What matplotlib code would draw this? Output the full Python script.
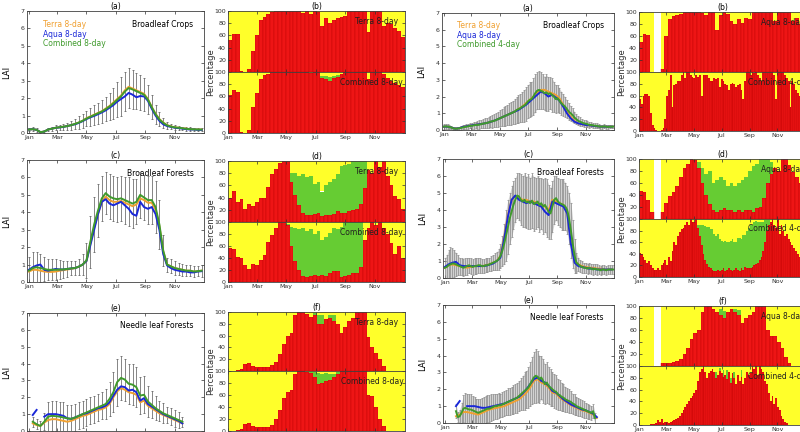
import matplotlib
matplotlib.use('Agg')
import matplotlib.pyplot as plt
import numpy as np

nan = np.nan

# composite days
doy8 = np.arange(1, 366, 8)   # 46 periods
doy4 = np.arange(1, 366, 4)   # 92 periods
months = ['Jan', 'Mar', 'May', 'Jul', 'Sep', 'Nov']
month_days = [1, 60, 121, 182, 244, 305]

# ---------------- left half: 8-day products ----------------
# (a) Broadleaf Crops LAI
terra_a = [0.2, 0.22, 0.18, 0.05, 0.08, 0.2, 0.25, 0.3, 0.33, 0.36, 0.4, 0.45, 0.52, 0.6, 0.7, 0.85, 0.95, 1.05, 1.15, 1.25,
           1.4, 1.55, 1.75, 1.95, 2.15, 2.45, 2.65, 2.55, 2.45, 2.35, 2.25, 1.95, 1.5, 1.1, 0.8, 0.6, 0.45, 0.38, 0.33, 0.3,
           0.28, 0.25, 0.22, 0.22, 0.2, 0.2]
aqua_a = [0.2, 0.22, 0.18, 0.05, 0.08, 0.2, 0.25, 0.3, 0.32, 0.35, 0.4, 0.45, 0.5, 0.58, 0.68, 0.8, 0.9, 0.98, 1.08, 1.18,
          1.3, 1.45, 1.6, 1.8, 1.95, 2.1, 2.3, 2.2, 2.05, 2.12, 2.1, 1.85, 1.4, 1.0, 0.7, 0.5, 0.4, 0.35, 0.3, 0.28,
          0.25, 0.22, 0.2, 0.2, 0.18, 0.18]
comb_a = [0.2, 0.22, 0.18, 0.05, 0.08, 0.2, 0.25, 0.3, 0.33, 0.36, 0.4, 0.45, 0.52, 0.6, 0.7, 0.83, 0.93, 1.03, 1.13, 1.23,
          1.37, 1.52, 1.7, 1.9, 2.1, 2.38, 2.58, 2.5, 2.4, 2.3, 2.2, 1.92, 1.48, 1.08, 0.78, 0.58, 0.44, 0.37, 0.32, 0.3,
          0.27, 0.24, 0.22, 0.21, 0.2, 0.2]
std_a = [0.1, 0.1, 0.1, 0.05, 0.1, 0.1, 0.12, 0.15, 0.15, 0.18, 0.2, 0.25, 0.3, 0.35, 0.4, 0.45, 0.5, 0.55, 0.6, 0.65,
         0.7, 0.8, 0.9, 1.0, 1.1, 1.1, 1.15, 1.1, 1.05, 1.0, 0.95, 0.85, 0.7, 0.55, 0.4, 0.3, 0.2, 0.15, 0.12, 0.1,
         0.1, 0.1, 0.1, 0.1, 0.1, 0.1]

# (b) percentages, Broadleaf Crops
red_b_top = [52, 63, 62, 2, 0, 5, 35, 60, 85, 90, 95, 98, 100, 100, 100, 100, 100, 100, 100, 96,
             100, 95, 100, 98, 75, 88, 80, 85, 88, 90, 92, 100, 100, 100, 100, 100, 65, 100, 100, 100,
             75, 80, 78, 72, 68, 58]
green_b_top = [0] * 46
red_b_bot = [63, 70, 67, 2, 0, 5, 43, 65, 88, 95, 97, 100, 100, 100, 100, 100, 100, 100, 100, 100,
             100, 98, 100, 100, 90, 88, 85, 90, 92, 96, 100, 100, 100, 100, 100, 100, 88, 100, 100, 100,
             97, 90, 85, 82, 78, 76]
green_b_bot = [0] * 24 + [4, 5, 6, 4, 3] + [0] * 17

# (c) Broadleaf Forests LAI
terra_c = [0.6, 0.7, 0.7, 0.65, 0.6, 0.58, 0.58, 0.6, 0.65, 0.68, 0.72, 0.75, 0.8, 0.88, 1.0, 1.2, 2.2, 3.1, 3.9, 4.6,
           4.9, 4.7, 4.6, 4.6, 4.65, 4.55, 4.45, 4.35, 4.45, 4.8, 4.7, 4.55, 4.55, 4.15, 3.2, 1.75, 1.0, 0.9, 0.8, 0.75,
           0.7, 0.65, 0.65, 0.6, 0.62, 0.65]
aqua_c = [0.7, 0.85, 0.95, 1.0, 0.7, 0.65, 0.7, 0.75, 0.72, 0.72, 0.75, 0.78, 0.8, 0.88, 1.0, 1.2, 2.1, 3.0, 3.9, 4.6,
          4.75, 4.5, 4.4, 4.5, 4.6, 4.4, 4.2, 3.9, 3.8, 4.6, 4.3, 4.2, 4.3, 3.9, 3.0, 1.6, 0.95, 0.8, 0.7, 0.65,
          0.6, 0.6, 0.55, 0.55, 0.6, 0.62]
comb_c = [0.65, 0.8, 0.85, 0.8, 0.75, 0.7, 0.7, 0.7, 0.72, 0.72, 0.75, 0.78, 0.8, 0.88, 1.0, 1.25, 2.3, 3.3, 4.1, 4.8,
          5.1, 4.9, 4.8, 4.75, 4.8, 4.7, 4.6, 4.5, 4.6, 5.0, 4.85, 4.7, 4.7, 4.3, 3.3, 1.8, 1.0, 0.9, 0.8, 0.75,
          0.7, 0.65, 0.65, 0.6, 0.62, 0.65]
std_c = [0.8, 0.9, 0.9, 0.8, 0.7, 0.6, 0.6, 0.6, 0.55, 0.5, 0.45, 0.4, 0.4, 0.45, 0.6, 1.0, 1.5, 1.6, 1.5, 1.3,
         1.2, 1.3, 1.3, 1.3, 1.3, 1.35, 1.4, 1.4, 1.3, 1.3, 1.3, 1.4, 1.4, 1.5, 1.4, 0.9, 0.4, 0.4, 0.4, 0.35,
         0.35, 0.3, 0.3, 0.3, 0.3, 0.35]

# (d) percentages, Broadleaf Forests
red_d_top = [40, 50, 33, 38, 22, 30, 26, 33, 40, 40, 57, 78, 87, 97, 100, 100, 65, 45, 28, 15,
             12, 12, 13, 15, 10, 12, 12, 13, 18, 15, 15, 18, 20, 22, 30, 55, 85, 80, 100, 90,
             100, 75, 60, 42, 37, 22]
green_d_top = [0] * 16 + [15, 35, 48, 63, 61, 63, 49, 50, 40, 48, 53, 57, 60, 77, 78, 77, 80, 78, 70, 45] + [0] * 10
red_d_bot = [57, 55, 42, 40, 28, 22, 30, 28, 37, 45, 67, 78, 90, 100, 100, 95, 60, 35, 20, 10,
             8, 10, 12, 10, 12, 10, 15, 18, 18, 8, 10, 12, 15, 15, 25, 70, 90, 100, 95, 100,
             90, 80, 65, 47, 60, 40]
green_d_bot = [0] * 15 + [2, 32, 55, 68, 80, 77, 78, 68, 75, 58, 65, 67, 72, 70, 84, 90, 88, 85, 85, 75] + [0] * 11

# (e) Needle leaf Forests LAI
terra_e = [nan, 0.45, 0.35, 0.3, 0.5, 0.65, 0.7, 0.7, 0.65, 0.6, 0.55, 0.6, 0.7, 0.8, 0.9, 0.95, 1.05, 1.15, 1.25, 1.3,
           1.4, 1.6, 2.0, 2.35, 2.55, 2.45, 2.3, 2.25, 2.15, 1.7, 1.8, 1.5, 1.35, 1.2, 1.05, 0.95, 0.85, 0.75, 0.65, 0.55,
           0.45, nan, nan, nan, nan, nan]
aqua_e = [nan, 0.95, 1.25, nan, 0.85, 1.0, 1.0, 1.0, 0.95, 0.9, 0.75, 0.72, 0.8, 0.9, 1.0, 1.05, 1.15, 1.25, 1.35, 1.4,
          1.5, 1.7, 2.1, 2.45, 2.65, 2.6, 2.4, 2.45, 2.3, 1.8, 1.95, 1.6, 1.45, 1.3, 1.15, 1.0, 0.9, 0.8, 0.7, 0.6,
          0.45, nan, nan, nan, nan, nan]
comb_e = [nan, 0.55, 0.4, 0.3, 0.55, 0.85, 0.9, 0.88, 0.85, 0.8, 0.75, 0.72, 0.8, 0.9, 1.0, 1.1, 1.2, 1.3, 1.4, 1.5,
          1.6, 1.9, 2.3, 2.9, 3.15, 3.05, 2.8, 2.75, 2.6, 2.1, 2.15, 1.75, 1.55, 1.35, 1.2, 1.05, 0.95, 0.85, 0.75, 0.65,
          0.55, nan, nan, nan, nan, nan]
std_e = [nan, 0.3, 0.3, 0.3, 0.5, 0.9, 0.9, 0.9, 0.9, 0.9, 0.8, 0.8, 0.8, 0.8, 0.8, 0.8, 0.8, 0.8, 0.8, 0.8,
         0.9, 1.0, 1.2, 1.4, 1.3, 1.25, 1.2, 1.2, 1.2, 1.1, 1.1, 0.9, 0.8, 0.7, 0.6, 0.6, 0.5, 0.5, 0.5, 0.5,
         0.3, nan, nan, nan, nan, nan]

# (f) percentages, Needle leaf Forests
red_f_top = [0, 0, 2, 3, 12, 13, 8, 7, 7, 7, 6, 10, 15, 28, 45, 60, 65, 95, 100, 100,
             97, 92, 95, 80, 80, 88, 90, 85, 80, 65, 75, 85, 90, 100, 100, 100, 58, 40, 30, 20,
             8, 0, 0, 0, 0, 0]
green_f_top = [0] * 22 + [3, 15, 15, 0, 5, 10] + [0] * 18
red_f_bot = [0, 0, 2, 3, 12, 13, 8, 7, 7, 7, 6, 10, 20, 35, 55, 65, 68, 95, 100, 100,
             98, 96, 90, 78, 80, 84, 85, 90, 95, 100, 100, 100, 100, 100, 100, 100, 60, 58, 40, 20,
             8, 0, 0, 0, 0, 0]
green_f_bot = [0] * 21 + [3, 8, 18, 15, 12, 10, 5, 3] + [0] * 17

# ---------------- right half: Aqua 8-day and combined 4-day ----------------
# Broadleaf Crops
terra_r1 = [0.2, 0.2, 0.15, 0.08, 0.1, 0.18, 0.22, 0.26, 0.3, 0.33, 0.36, 0.4, 0.45, 0.52, 0.6, 0.7, 0.8, 0.9, 1.0, 1.1,
            1.25, 1.4, 1.6, 1.8, 2.0, 2.25, 2.4, 2.4, 2.3, 2.2, 2.1, 1.9, 1.5, 1.1, 0.8, 0.55, 0.4, 0.35, 0.3, 0.28,
            0.25, 0.22, 0.2, 0.2, 0.2, 0.2]
aqua_r1 = [0.2, 0.2, 0.15, 0.08, 0.1, 0.18, 0.22, 0.26, 0.3, 0.33, 0.36, 0.4, 0.45, 0.52, 0.6, 0.7, 0.8, 0.9, 1.0, 1.1,
           1.2, 1.35, 1.5, 1.7, 1.9, 2.1, 2.3, 2.2, 2.0, 2.1, 1.95, 1.75, 1.4, 1.0, 0.7, 0.5, 0.4, 0.35, 0.3, 0.28,
           0.25, 0.22, 0.2, 0.2, 0.2, 0.2]
comb4_r1 = [0.2, 0.22, 0.2, 0.18, 0.15, 0.1, 0.08, 0.08, 0.1, 0.12, 0.15, 0.18, 0.2, 0.22, 0.25, 0.25, 0.28, 0.3, 0.3, 0.32,
            0.35, 0.38, 0.4, 0.42, 0.45, 0.5, 0.52, 0.55, 0.6, 0.65, 0.7, 0.75, 0.8, 0.85, 0.9, 0.95, 1.0, 1.05, 1.1, 1.2,
            1.25, 1.3, 1.4, 1.45, 1.55, 1.7, 1.8, 1.85, 2.0, 2.2, 2.35, 2.4, 2.35, 2.3, 2.2, 2.25, 2.15, 2.2, 2.1, 2.0,
            1.85, 1.9, 1.75, 1.6, 1.5, 1.4, 1.25, 1.1, 1.0, 0.9, 0.75, 0.65, 0.55, 0.5, 0.45, 0.4, 0.38, 0.35, 0.3, 0.3,
            0.28, 0.25, 0.25, 0.22, 0.2, 0.2, 0.22, 0.2, 0.18, 0.2, 0.2, 0.2]
std4_r1 = [0.15, 0.15, 0.15, 0.12, 0.1, 0.1, 0.08, 0.08, 0.1, 0.1, 0.12, 0.12, 0.15, 0.15, 0.15, 0.18, 0.2, 0.2, 0.22, 0.25,
           0.25, 0.28, 0.3, 0.3, 0.32, 0.35, 0.38, 0.4, 0.42, 0.45, 0.48, 0.5, 0.55, 0.6, 0.6, 0.65, 0.7, 0.7, 0.75, 0.8,
           0.85, 0.85, 0.9, 0.95, 1.0, 1.0, 1.05, 1.0, 1.1, 1.15, 1.1, 1.15, 1.1, 1.05, 1.0, 1.1, 1.0, 0.95, 1.0, 0.9,
           0.85, 0.8, 0.75, 0.7, 0.65, 0.6, 0.55, 0.5, 0.45, 0.4, 0.35, 0.3, 0.28, 0.25, 0.22, 0.2, 0.2, 0.18, 0.18, 0.15,
           0.15, 0.15, 0.15, 0.12, 0.12, 0.12, 0.12, 0.12, 0.1, 0.1, 0.1, 0.1]
red_r1_top = [50, 63, 62, 0, nan, nan, 5, 60, 88, 93, 95, 97, 100, 100, 100, 100, 100, 98, 95, 100,
              100, 70, 95, 100, 97, 85, 80, 88, 82, 90, 88, 100, 100, 100, 100, 100, 100, 85, 100, 100,
              100, 100, 85, 90, 80, 75]
green_r1_top = [0] * 46
red_r1_bot = [55, 45, 60, 62, 62, 60, 30, 10, 5, 2, 0, 0, 2, 5, 20, 60, 70, 95, 40, 78,
              80, 85, 85, 95, 100, 90, 100, 100, 95, 92, 90, 95, 92, 95, 60, 95, 95, 95, 90, 85,
              85, 90, 88, 90, 75, 88, 85, 80, 78, 70, 80, 82, 80, 75, 78, 80, 70, 55, 85, 100,
              100, 95, 100, 98, 100, 95, 90, 85, 100, 100, 100, 100, 100, 100, 95, 55, 100, 100, 100, 100,
              95, 90, 85, 40, 85, 80, 70, 65, 60, 55, 50, 45]
green_r1_bot = [0] * 92

# Broadleaf Forests
terra_r2 = [0.6, 0.75, 0.8, 0.75, 0.7, 0.65, 0.6, 0.65, 0.7, 0.7, 0.7, 0.75, 0.8, 0.9, 1.0, 1.3, 2.4, 3.7, 4.6, 4.8,
            4.7, 4.6, 4.6, 4.5, 4.5, 4.4, 4.3, 4.2, 4.0, 4.6, 4.5, 4.4, 4.3, 3.9, 2.2, 1.0, 0.8, 0.7, 0.65, 0.6,
            0.6, 0.55, 0.55, 0.5, 0.5, 0.5]
aqua_r2 = [0.65, 0.8, 0.9, 0.95, 0.75, 0.7, 0.7, 0.7, 0.7, 0.7, 0.7, 0.72, 0.78, 0.85, 1.0, 1.2, 2.3, 3.6, 4.6, 4.85,
           4.6, 4.5, 4.4, 4.5, 4.4, 4.3, 4.2, 3.9, 3.7, 4.5, 4.4, 4.3, 4.2, 3.8, 2.0, 0.9, 0.7, 0.65, 0.6, 0.55,
           0.55, 0.5, 0.5, 0.5, 0.5, 0.5]
comb4_r2 = [0.6, 0.65, 0.75, 0.8, 0.85, 0.85, 0.8, 0.75, 0.7, 0.65, 0.6, 0.65, 0.7, 0.75, 0.7, 0.65, 0.7, 0.7, 0.75, 0.75,
            0.7, 0.7, 0.75, 0.75, 0.8, 0.85, 0.9, 0.95, 1.0, 1.1, 1.3, 1.6, 2.0, 2.5, 3.0, 3.5, 3.9, 4.3, 4.6, 4.85,
            4.8, 4.6, 4.5, 4.6, 4.45, 4.5, 4.4, 4.55, 4.35, 4.4, 4.5, 4.3, 4.4, 4.2, 4.3, 4.1, 3.9, 3.8, 4.2, 4.6,
            4.7, 4.5, 4.4, 4.35, 4.3, 4.2, 4.0, 3.5, 2.8, 2.0, 1.3, 0.9, 0.8, 0.7, 0.65, 0.6, 0.6, 0.55, 0.6, 0.55,
            0.5, 0.55, 0.5, 0.5, 0.45, 0.5, 0.5, 0.45, 0.5, 0.5, 0.5, 0.5]
std4_r2 = [0.6, 0.7, 0.9, 1.0, 0.9, 0.8, 0.7, 0.6, 0.5, 0.5, 0.5, 0.5, 0.5, 0.45, 0.45, 0.45, 0.45, 0.45, 0.45, 0.45,
           0.4, 0.4, 0.4, 0.4, 0.4, 0.45, 0.45, 0.5, 0.55, 0.6, 0.7, 0.9, 1.2, 1.5, 1.6, 1.5, 1.5, 1.4, 1.3, 1.3,
           1.4, 1.5, 1.5, 1.6, 1.5, 1.6, 1.5, 1.6, 1.6, 1.5, 1.5, 1.6, 1.5, 1.6, 1.6, 1.7, 1.6, 1.5, 1.5, 1.4,
           1.3, 1.4, 1.4, 1.5, 1.5, 1.4, 1.4, 1.5, 1.6, 1.4, 1.0, 0.6, 0.4, 0.35, 0.35, 0.3, 0.3, 0.3, 0.3, 0.3,
           0.3, 0.3, 0.3, 0.25, 0.25, 0.25, 0.25, 0.25, 0.25, 0.25, 0.25, 0.25]
red_r2_top = [47, 45, 32, 12, nan, nan, 12, 27, 38, 45, 55, 70, 85, 92, 100, 98, 85, 60, 40, 25,
              15, 12, 15, 18, 15, 15, 12, 15, 12, 15, 15, 12, 18, 20, 35, 60, 75, 85, 80, 100,
              100, 90, 78, 70, 60, 50]
green_r2_top = [0] * 16 + [10, 25, 35, 55, 45, 53, 55, 47, 40, 45, 43, 45, 53, 55, 65, 76, 74, 80, 65, 40, 20] + [0] * 9
red_r2_bot = [42, 40, 35, 30, 25, 28, 20, 15, 12, 12, 15, 12, 20, 25, 30, 20, 35, 28, 45, 60,
              55, 70, 78, 82, 85, 90, 95, 90, 100, 95, 95, 100, 85, 70, 55, 40, 30, 22, 18, 15,
              12, 10, 10, 12, 10, 12, 15, 10, 12, 15, 12, 10, 12, 15, 12, 10, 15, 12, 18, 15,
              15, 15, 18, 20, 22, 25, 30, 35, 45, 60, 80, 90, 95, 100, 90, 85, 100, 75, 90, 80,
              70, 75, 65, 60, 55, 50, 45, 40, 35, 30, 25, 22]
green_r2_bot = [0] * 32 + [5, 20, 35, 50, 58, 65, 68, 68, 70, 65, 60, 62, 55, 50, 45, 52, 48, 45, 50, 55,
                           48, 45, 55, 58, 50, 60, 55, 65, 70, 75, 72, 75, 75, 70, 65, 60, 50, 38, 18, 8] + [0] * 20

# Needle leaf Forests
terra_r3 = [nan, nan, nan, 0.4, 0.5, 0.65, 0.65, 0.6, 0.55, 0.5, 0.6, 0.7, 0.8, 0.85, 0.9, 0.95, 1.0, 1.1, 1.2, 1.3,
            1.4, 1.6, 1.8, 2.1, 2.5, 2.6, 2.4, 2.3, 2.1, 1.8, 1.75, 1.5, 1.35, 1.2, 1.05, 0.95, 0.85, 0.75, 0.7, 0.6,
            0.5, 0.3, nan, nan, nan, nan]
aqua_r3 = [nan, nan, nan, 1.0, 1.3, nan, 1.0, 1.0, 1.0, 0.95, 0.9, 0.9, 0.95, 1.0, 1.05, 1.1, 1.15, 1.25, 1.35, 1.45,
           1.55, 1.75, 2.0, 2.3, 2.6, 2.7, 2.5, 2.4, 2.2, 1.9, 1.8, 1.6, 1.4, 1.25, 1.1, 1.0, 0.9, 0.8, 0.75, 0.65,
           0.55, 0.35, nan, nan, nan, nan]
comb4_r3 = [nan, nan, nan, nan, nan, nan, 0.7, 0.35, 0.4, 0.6, 0.85, 0.9, 0.85, 0.8, 0.8, 0.75, 0.7, 0.65, 0.6, 0.65,
            0.7, 0.75, 0.8, 0.85, 0.85, 0.9, 0.95, 1.0, 1.0, 1.05, 1.05, 1.1, 1.15, 1.2, 1.25, 1.3, 1.35, 1.4, 1.45, 1.5,
            1.6, 1.7, 1.8, 1.9, 2.0, 2.1, 2.3, 2.5, 2.7, 2.8, 2.75, 2.6, 2.7, 2.5, 2.3, 2.4, 2.2, 2.1, 2.0, 1.9,
            1.85, 1.7, 1.65, 1.55, 1.5, 1.4, 1.35, 1.3, 1.25, 1.15, 1.1, 1.0, 0.95, 0.9, 0.85, 0.8, 0.75, 0.7, 0.65, 0.6,
            0.7, 0.3, nan, nan, nan, nan, nan, nan, nan, nan, nan, nan]
std4_r3 = [nan, nan, nan, nan, nan, nan, 0.4, 0.3, 0.4, 0.6, 0.8, 0.9, 0.9, 0.9, 0.9, 0.85, 0.85, 0.8, 0.8, 0.8,
           0.8, 0.8, 0.8, 0.8, 0.8, 0.8, 0.75, 0.75, 0.75, 0.75, 0.7, 0.75, 0.75, 0.75, 0.8, 0.8, 0.8, 0.85, 0.85, 0.9,
           0.9, 0.95, 1.0, 1.1, 1.1, 1.2, 1.3, 1.4, 1.5, 1.6, 1.5, 1.4, 1.3, 1.3, 1.2, 1.2, 1.1, 1.1, 1.0, 1.0,
           1.0, 0.9, 0.9, 0.85, 0.8, 0.75, 0.7, 0.7, 0.65, 0.6, 0.6, 0.55, 0.55, 0.5, 0.5, 0.5, 0.45, 0.45, 0.4, 0.4,
           0.4, 0.3, nan, nan, nan, nan, nan, nan, nan, nan, nan, nan]
red_r3_top = [0, 0, 0, 0, nan, nan, 5, 5, 5, 6, 8, 12, 20, 30, 45, 55, 60, 90, 100, 100,
              95, 90, 85, 80, 90, 95, 90, 85, 72, 80, 85, 90, 100, 100, 100, 60, 50, 50, 40, 30,
              15, 5, 0, 0, 0, 0]
green_r3_top = [0] * 22 + [10, 12, 0, 0, 5, 8] + [0] * 18
red_r3_bot = [0, 0, 0, 0, 0, 0, 1, 2, 2, 3, 8, 5, 10, 4, 5, 5, 3, 5, 6, 8,
              10, 12, 15, 20, 25, 30, 35, 40, 45, 50, 55, 60, 75, 90, 95, 100, 90, 80, 88, 92,
              95, 90, 80, 85, 92, 88, 82, 85, 78, 90, 72, 88, 80, 70, 85, 75, 82, 70, 80, 90,
              85, 88, 100, 95, 100, 85, 100, 95, 90, 75, 70, 55, 40, 50, 35, 45, 30, 25, 15, 10,
              5, 3, 0, 0, 0, 0, 0, 0, 0, 0, 0, 0]
green_r3_bot = [0] * 42 + [10, 0, 5, 0, 12, 0, 15, 0, 8, 0, 10, 0, 0, 0, 12] + [0] * 35

C_TERRA = '#f0a030'
C_AQUA = '#1a28d8'
C_COMB = '#3f9a2c'
C_RED = '#ee1515'
C_YEL = '#ffff2a'
C_GRN = '#66cc33'

W, H = 800, 432
fig = plt.figure(figsize=(8, 4.32), dpi=100)


def rect(x0, y0, x1, y1):
    return [x0 / W, 1 - y1 / H, (x1 - x0) / W, (y1 - y0) / H]


def style(ax):
    for s in ax.spines.values():
        s.set_linewidth(0.6)
        s.set_color('#404040')
    ax.tick_params(labelsize=4.5, direction='in', length=2, width=0.5, pad=1.5,
                   top=True, right=True, colors='#303030')


def lai_panel(box, title, name, terra, aqua, comb, cdays, std, clabel, gray):
    ax = fig.add_axes(rect(*box))
    comb = np.array(comb)
    std = np.array(std)
    if gray:
        ax.fill_between(cdays, comb - std, comb + std, color='#d2d2d2', lw=0)
        ax.errorbar(cdays, comb, yerr=std, fmt='none', ecolor='#8a8a8a',
                    elinewidth=0.5, capsize=1, capthick=0.5)
    else:
        ax.errorbar(cdays, comb, yerr=std, fmt='none', ecolor='#555555',
                    elinewidth=0.5, capsize=1, capthick=0.5)
    ax.plot(doy8, terra, color=C_TERRA, lw=1.4)
    ax.plot(doy8, aqua, color=C_AQUA, lw=1.4)
    ax.plot(cdays, comb, color=C_COMB, lw=1.4)
    ax.set_xlim(-3, 366)
    ax.set_ylim(0, 7)
    ax.set_yticks(range(8))
    ax.set_xticks(month_days)
    ax.set_xticklabels(months)
    style(ax)
    ax.set_title(title, fontsize=5.5, pad=1.5)
    ax.set_ylabel('LAI', fontsize=6, labelpad=0)
    ax.yaxis.set_label_coords(-0.09, 0.5)
    if clabel:
        ax.text(0.09, 0.89, 'Terra 8-day', color=C_TERRA, fontsize=5.5, transform=ax.transAxes, va='center')
        ax.text(0.09, 0.81, 'Aqua 8-day', color=C_AQUA, fontsize=5.5, transform=ax.transAxes, va='center')
        ax.text(0.09, 0.73, clabel, color=C_COMB, fontsize=5.5, transform=ax.transAxes, va='center')
    ax.text(0.94, 0.89, name, fontsize=5.5, transform=ax.transAxes, va='center', ha='right')
    return ax


def bar_half(ax, days, width, red, green, label, lx):
    red = np.array(red, dtype=float)
    green = np.array(green, dtype=float)
    ok = ~np.isnan(red)
    x = np.asarray(days)[ok] - 1
    r = red[ok]
    g = green[ok]
    ax.bar(x, r, width, align='edge', color=C_RED, edgecolor='#b80000', lw=0.25)
    ax.bar(x, g, width, bottom=r, align='edge', color=C_GRN, lw=0)
    ax.bar(x, 100 - r - g, width, bottom=r + g, align='edge', color=C_YEL, lw=0)
    ax.set_xlim(0, 368)
    ax.set_ylim(0, 100)
    ax.set_xticks(month_days)
    style(ax)
    ax.text(lx, 0.83, label, fontsize=5.5, transform=ax.transAxes, va='center', color='#202020')


def bar_panel(box, split, title, days_top, w_top, rt, gt, lt, days_bot, w_bot, rb, gb, lb, lx_top, lx_bot, ylab_x):
    x0, y0, x1, y1 = box
    at = fig.add_axes(rect(x0, y0, x1, split))
    ab = fig.add_axes(rect(x0, split, x1, y1))
    bar_half(at, days_top, w_top, rt, gt, lt, lx_top)
    bar_half(ab, days_bot, w_bot, rb, gb, lb, lx_bot)
    at.set_yticks([20, 40, 60, 80, 100])
    at.set_xticklabels([])
    ab.set_yticks([0, 20, 40, 60, 80, 100])
    ab.set_xticklabels(months)
    at.set_title(title, fontsize=5.5, pad=1.5)
    fig.text(ylab_x / W, 1 - split / H, 'Percentage', rotation=90, fontsize=6,
             ha='center', va='center', color='#303030')


# left half
lai_panel((27, 11, 204, 133), '(a)', 'Broadleaf Crops', terra_a, aqua_a, comb_a, doy8, std_a, 'Combined 8-day', False)
lai_panel((27, 160, 204, 282), '(c)', 'Broadleaf Forests', terra_c, aqua_c, comb_c, doy8, std_c, None, False)
lai_panel((27, 313, 204, 431), '(e)', 'Needle leaf Forests', terra_e, aqua_e, comb_e, doy8, std_e, None, False)

bar_panel((228, 11, 405, 133), 72, '(b)', doy8, 8, red_b_top, green_b_top, 'Terra 8-day',
          doy8, 8, red_b_bot, green_b_bot, 'Combined 8-day', 0.72, 0.63, 211)
bar_panel((228, 161, 405, 282), 222, '(d)', doy8, 8, red_d_top, green_d_top, 'Terra 8-day',
          doy8, 8, red_d_bot, green_d_bot, 'Combined 8-day', 0.72, 0.63, 211)
bar_panel((228, 312, 405, 431), 371, '(f)', doy8, 8, red_f_top, green_f_top, 'Terra 8-day',
          doy8, 8, red_f_bot, green_f_bot, 'Combined 8-day', 0.72, 0.64, 211)

# right half
lai_panel((442, 13, 614, 130), '(a)', 'Broadleaf Crops', terra_r1, aqua_r1, comb4_r1, doy4, std4_r1, 'Combined 4-day', True)
lai_panel((443, 159, 614, 278), '(c)', 'Broadleaf Forests', terra_r2, aqua_r2, comb4_r2, doy4, std4_r2, None, True)
lai_panel((443, 305, 614, 423), '(e)', 'Needle leaf Forests', terra_r3, aqua_r3, comb4_r3, doy4, std4_r3, None, True)

bar_panel((639, 12, 806, 131), 72, '(b)', doy8, 8, red_r1_top, green_r1_top, 'Aqua 8-day',
          doy4, 4, red_r1_bot, green_r1_bot, 'Combined 4-day', 0.73, 0.65, 622)
bar_panel((639, 159, 806, 277), 219, '(d)', doy8, 8, red_r2_top, green_r2_top, 'Aqua 8-day',
          doy4, 4, red_r2_bot, green_r2_bot, 'Combined 4-day', 0.73, 0.65, 622)
bar_panel((639, 306, 806, 425), 366, '(f)', doy8, 8, red_r3_top, green_r3_top, 'Aqua 8-day',
          doy4, 4, red_r3_bot, green_r3_bot, 'Combined 4-day', 0.73, 0.65, 622)

fig.savefig('out.png', dpi=100)
